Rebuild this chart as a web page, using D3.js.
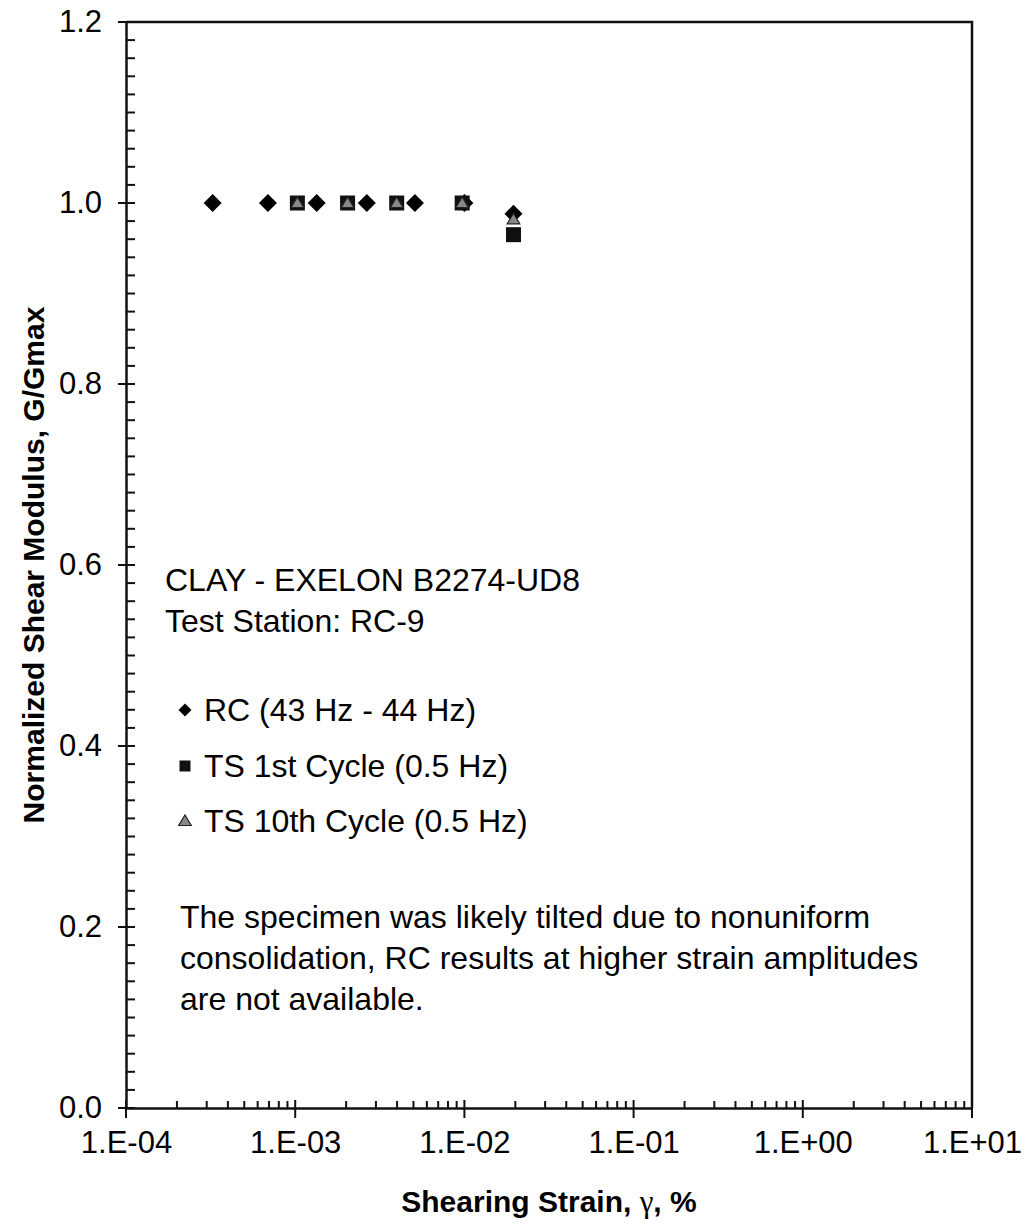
<!DOCTYPE html>
<html><head><meta charset="utf-8">
<script src="https://cdn.jsdelivr.net/npm/d3@7"></script>
<style>
body{margin:0;background:#fff}
svg{display:block}
text{font-family:"Liberation Sans",Arial,sans-serif;fill:#000}
</style>
</head><body>
<svg id="c" width="1025" height="1228"></svg>
<script>
// ---- data ----
const rcStrain = [3.25e-4, 6.9e-4, 1.34e-3, 2.65e-3, 5.1e-3, 1.0e-2, 1.95e-2];
const rcG = [1.0, 1.0, 1.0, 1.0, 1.0, 1.0, 0.988];
const ts1Strain = [1.03e-3, 2.04e-3, 3.98e-3, 9.7e-3, 1.95e-2];
const ts1G = [1.0, 1.0, 1.0, 1.0, 0.965];
const ts10Strain = [1.03e-3, 2.04e-3, 3.98e-3, 9.7e-3, 1.95e-2];
const ts10G = [1.0, 1.0, 1.0, 1.0, 0.982];
const xTickValues = [1e-4, 1e-3, 1e-2, 1e-1, 1e0, 1e1];
const xTickLabels = ["1.E-04", "1.E-03", "1.E-02", "1.E-01", "1.E+00", "1.E+01"];
const yTickValues = [0, 0.2, 0.4, 0.6, 0.8, 1.0, 1.2];
const yTickLabels = ["0.0", "0.2", "0.4", "0.6", "0.8", "1.0", "1.2"];
const legendLabels = ["RC (43 Hz - 44 Hz)", "TS 1st Cycle (0.5 Hz)", "TS 10th Cycle (0.5 Hz)"];
const headerLines = ["CLAY - EXELON B2274-UD8", "Test Station: RC-9"];
const noteLines = ["The specimen was likely tilted due to nonuniform",
  "consolidation, RC results at higher strain amplitudes",
  "are not available."];
const yTitle = "Normalized Shear Modulus, G/Gmax";

// ---- layout ----
const L = 126, R = 972, T = 22, B = 1108;
const svg = d3.select("#c");
const x = d3.scaleLog().domain([1e-4, 1e1]).range([L, R]);
const y = d3.scaleLinear().domain([0, 1.2]).range([B, T]);

// border (top and right)
svg.append("path")
  .attr("d", `M${L},${T}H${R}V${B}`)
  .attr("fill", "none").attr("stroke", "#111").attr("stroke-width", 2.5);

// y axis
const yAxis = svg.append("g").attr("transform", `translate(${L},0)`)
  .call(d3.axisLeft(y).tickValues(yTickValues).tickSize(0).tickPadding(24)
    .tickFormat((d, i) => yTickLabels[i]));
yAxis.select(".domain").attr("stroke", "#111").attr("stroke-width", 2.5);
yAxis.selectAll("text").style("font-size", "31px").attr("font-family", null);
const yMinor = d3.range(0, 1.2001, 0.02);
svg.append("g").selectAll("line").data(yMinor).join("line")
  .attr("x1", L).attr("x2", L + 9)
  .attr("y1", d => y(d)).attr("y2", d => y(d))
  .attr("stroke", "#111").attr("stroke-width", 2);
svg.append("g").selectAll("line").data(yTickValues).join("line")
  .attr("x1", L - 8).attr("x2", L + 9)
  .attr("y1", d => y(d)).attr("y2", d => y(d))
  .attr("stroke", "#111").attr("stroke-width", 2);

// x axis
const xAxis = svg.append("g").attr("transform", `translate(0,${B})`)
  .call(d3.axisBottom(x).tickValues(xTickValues).tickSize(0).tickPadding(23)
    .tickFormat((d, i) => xTickLabels[i]));
xAxis.select(".domain").attr("stroke", "#111").attr("stroke-width", 2.5);
xAxis.selectAll("text").style("font-size", "31px").attr("font-family", null);
const xMinor = [];
for (let e = -4; e < 1; e++) for (let m = 2; m <= 9; m++) xMinor.push(m * Math.pow(10, e));
svg.append("g").selectAll("line").data(xMinor).join("line")
  .attr("x1", d => x(d)).attr("x2", d => x(d))
  .attr("y1", B).attr("y2", B - 7)
  .attr("stroke", "#111").attr("stroke-width", 2);
svg.append("g").selectAll("line").data(xTickValues).join("line")
  .attr("x1", d => x(d)).attr("x2", d => x(d))
  .attr("y1", B - 8).attr("y2", B + 10)
  .attr("stroke", "#111").attr("stroke-width", 2);

// titles
const xt = svg.append("text").attr("x", (L + R) / 2).attr("y", 1212)
  .attr("text-anchor", "middle").style("font-size", "30px").style("font-weight", "bold");
xt.append("tspan").text("Shearing Strain, ");
xt.append("tspan").style("font-family", "'Liberation Serif','DejaVu Serif',serif")
  .style("font-weight", "normal").style("font-size", "31px").text("\u03B3");
xt.append("tspan").text(", %");
svg.append("text").attr("transform", `translate(44,${(T + B) / 2}) rotate(-90)`)
  .attr("text-anchor", "middle").style("font-size", "30px").style("font-weight", "bold")
  .text(yTitle);

// markers
const diamond = s => `M0,${-s}L${s},0L0,${s}L${-s},0Z`;
const square = s => `M${-s},${-s}H${s}V${s}H${-s}Z`;
const tri = s => `M0,${-s}L${s * 1.05},${s * 0.75}H${-s * 1.05}Z`;

const plot = svg.append("g");
plot.selectAll(".rc").data(rcStrain.map((d, i) => [d, rcG[i]])).join("path")
  .attr("transform", d => `translate(${x(d[0])},${y(d[1])})`)
  .attr("d", diamond(9)).attr("fill", "#000");
plot.selectAll(".ts1").data(ts1Strain.map((d, i) => [d, ts1G[i]])).join("path")
  .attr("transform", d => `translate(${x(d[0])},${y(d[1])})`)
  .attr("d", square(7.5)).attr("fill", "#111");
plot.selectAll(".ts10").data(ts10Strain.map((d, i) => [d, ts10G[i]])).join("path")
  .attr("transform", d => `translate(${x(d[0])},${y(d[1])})`)
  .attr("d", tri(6)).attr("fill", "#888").attr("stroke", "#222").attr("stroke-width", 1.2);

// header text
svg.append("g").selectAll("text").data(headerLines).join("text")
  .attr("x", 165).attr("y", (d, i) => 580 + i * 41)
  .attr("dy", "0.35em").style("font-size", "32px").text(d => d);

// legend
const lg = svg.append("g");
const legendY = [710, 766, 821];
lg.append("path").attr("transform", `translate(185,${legendY[0]})`).attr("d", diamond(6.5)).attr("fill", "#000");
lg.append("path").attr("transform", `translate(185,${legendY[1]})`).attr("d", square(5.5)).attr("fill", "#111");
lg.append("path").attr("transform", `translate(185,${legendY[2]})`).attr("d", tri(6)).attr("fill", "#888").attr("stroke", "#222").attr("stroke-width", 1.2);
lg.selectAll("text").data(legendLabels).join("text")
  .attr("x", 204).attr("y", (d, i) => legendY[i])
  .attr("dy", "0.35em").style("font-size", "32px").text(d => d);

// note
svg.append("g").selectAll("text").data(noteLines).join("text")
  .attr("x", 180).attr("y", (d, i) => 917 + i * 41)
  .attr("dy", "0.35em").style("font-size", "32px").text(d => d);
</script>
</body></html>
